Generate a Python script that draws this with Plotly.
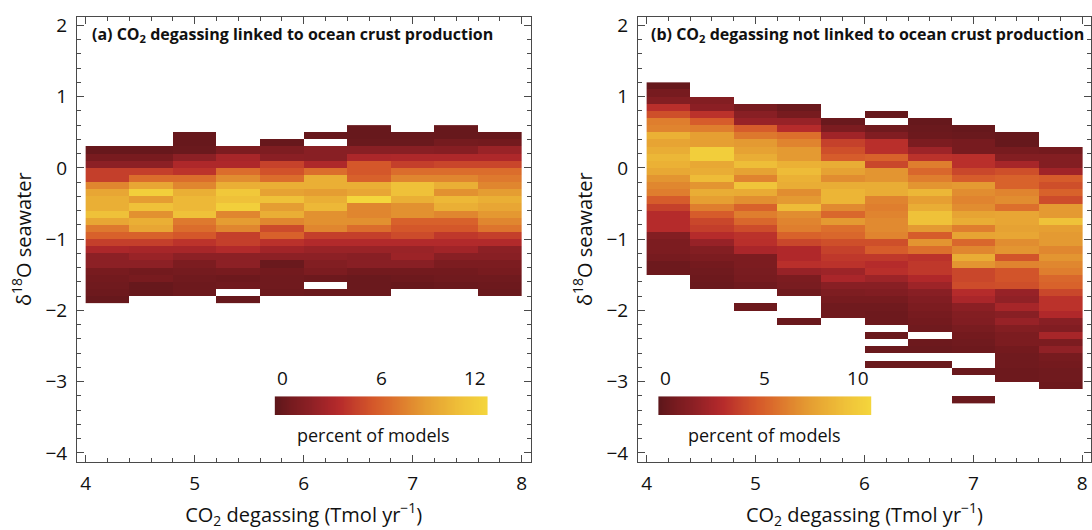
import numpy as np
import plotly.graph_objects as go

N = None

# CO2 degassing bins (Tmol/yr), shared by both panels
degassing_edges = [4.0, 4.4, 4.8, 5.2, 5.6, 6.0, 6.4, 6.8, 7.2, 7.6, 8.0]

# Panel (a): percent of models per d18O bin, rows listed from 0.6 down to -1.9
d18o_edges_a = np.round(np.arange(-1.9, 0.61, 0.1), 1)
pct_linked_rows = [
    [N, N, N, N, N, N, 0.4, N, 0.4, N],
    [N, N, 0.4, N, N, 0.4, 0.4, 0.4, 0.4, 0.4],
    [N, N, 0.4, N, 0.4, N, 0.5, 0.5, 0.9, 0.8],
    [0.4, 0.4, 0.5, 1.2, 1.3, 1.8, 1.8, 1.8, 1.7, 2.5],
    [1.0, 1.0, 2.0, 3.0, 1.9, 1.8, 3.2, 3.3, 3.3, 3.3],
    [2.0, 2.0, 3.3, 3.3, 4.6, 3.3, 5.5, 4.5, 4.8, 4.8],
    [4.5, 4.5, 4.0, 6.5, 5.3, 6.5, 5.5, 6.5, 6.5, 6.5],
    [4.5, 6.5, 6.5, 7.8, 6.5, 9.5, 6.0, 7.5, 7.5, 7.0],
    [7.5, 9.0, 7.5, 9.5, 9.5, 9.5, 9.5, 10.5, 9.5, 7.5],
    [9.0, 11.5, 9.5, 11.0, 8.8, 8.5, 9.0, 10.5, 8.0, 8.5],
    [9.5, 8.5, 10.0, 10.5, 10.5, 9.5, 12.0, 9.5, 10.0, 9.5],
    [9.5, 10.5, 10.0, 11.5, 8.5, 10.0, 7.5, 8.0, 9.5, 9.0],
    [10.5, 8.0, 10.5, 7.5, 9.4, 8.0, 7.5, 8.0, 7.5, 8.3],
    [9.0, 9.5, 7.0, 8.5, 7.5, 8.0, 8.0, 6.0, 6.0, 7.5],
    [7.0, 9.0, 6.5, 7.5, 5.0, 7.5, 6.5, 5.5, 5.5, 6.8],
    [6.0, 6.0, 5.5, 4.5, 6.0, 4.5, 4.5, 5.0, 4.2, 4.5],
    [4.5, 4.5, 4.0, 4.5, 3.9, 3.5, 3.5, 3.5, 3.5, 3.5],
    [3.2, 3.0, 3.0, 3.5, 2.8, 2.5, 2.5, 2.5, 2.8, 2.0],
    [2.0, 2.5, 2.0, 2.0, 2.0, 2.0, 1.8, 2.6, 1.8, 1.8],
    [2.0, 2.0, 1.2, 2.0, 0.5, 1.5, 1.8, 1.8, 1.2, 1.2],
    [1.0, 0.8, 0.9, 1.0, 0.8, 1.2, 0.8, 0.8, 0.8, 1.0],
    [0.8, 1.0, 0.7, 0.6, 0.7, 0.6, 0.5, 0.6, 0.7, 0.7],
    [0.7, 0.4, 0.6, 0.7, 0.7, N, 0.5, 0.4, 0.5, 0.6],
    [0.6, 0.4, 0.6, N, 0.6, 0.5, 0.5, N, N, 0.5],
    [0.4, N, N, 0.4, N, N, N, N, N, N],
]

# Panel (b): one list per degassing bin, d18O bins from 1.2 down to -3.3
d18o_edges_b = np.round(np.arange(-3.3, 1.21, 0.1), 1)
b_4_0 = [0.3, 0.8, 1.3, 3.2, 4.3, 6.0, 6.2, 8.0, 7.4, 7.8, 8.3, 8.0, 7.6, 6.8,
         6.3, 6.0, 4.8, 3.8, 3.0, 3.0, 3.0, 1.3, 1.0, 1.0, 0.8, 0.5, 0.5] + [N] * 18
b_4_4 = [N] * 2 + [1.3, 1.6, 3.3, 4.8, 6.0, 7.2, 7.2, 9.5, 9.5, 7.6, 7.8, 8.5, 6.8,
                   7.8, 7.2, 6.0, 4.8, 4.0, 3.7, 3.0, 2.0, 1.3, 1.0, 0.7, 0.6, 0.5,
                   0.4] + [N] * 16
b_4_8 = [N] * 3 + [0.8, 1.5, 2.0, 4.8, 5.8, 7.0, 7.3, 7.8, 8.6, 7.3, 6.2, 9.0, 7.7,
                   6.6, 5.0, 6.0, 5.2, 4.2, 3.3, 3.2, 2.6, 1.0, 1.0, 0.9, 0.8,
                   0.6] + [N] * 2 + [0.5] + [N] * 13
b_5_2 = [N] * 3 + [0.4, 0.8, 2.0, 3.0, 5.5, 6.2, 7.0, 7.0, 8.0, 8.5, 8.0, 7.8, 6.5,
                   7.0, 8.5, 6.5, 6.2, 6.0, 5.0, 4.0, 2.8, 2.8, 3.2, 2.0, 1.0, 0.9,
                   0.6] + [N] * 3 + [0.4] + [N] * 11
b_5_6 = [N] * 5 + [0.4, 1.0, 2.3, 3.8, 4.3, 4.8, 7.8, 7.3, 6.5, 7.8, 8.2, 8.2, 6.4,
                   5.2, 7.0, 5.5, 5.2, 4.3, 3.8, 3.5, 3.3, 2.2, 2.6, 1.5, 1.1, 0.8,
                   0.6, 0.6] + [N] * 12
b_6_0 = [N] * 4 + [0.3, N] + [0.6, 1.2, 3.2, 3.2, 5.0, 4.0, 6.8, 6.8, 7.8, 7.8, 6.2,
                              6.0, 6.2, 6.4, 6.4, 6.2, 4.3, 4.8, 3.5, 3.0, 3.2, 2.2,
                              1.5, 1.2, 0.8, 0.6, 0.5, 0.5] + [N, 0.4, N, 0.4, N, 0.4] + [N] * 5
b_6_4 = [N] * 5 + [0.3, 0.4, 0.5, 1.0, 2.2, 3.3, 6.0, 5.2, 6.0, 6.8, 8.3, 7.2, 7.8,
                   8.8, 8.8, 7.0, 4.8, 6.8, 5.5, 3.3, 3.5, 3.5, 2.8, 2.2, 1.5, 1.2,
                   1.0, 0.8, 0.7, 0.6] + [N, 0.5, 0.4, N, 0.4] + [N] * 5
b_6_8 = [N] * 6 + [0.3, 0.4, 0.8, 0.8, 3.2, 3.2, 4.0, 4.8, 7.0, 6.5, 6.2, 6.5, 7.4,
                   7.8, 6.0, 7.4, 5.2, 6.3, 7.8, 6.8, 4.0, 4.0, 4.2, 3.0, 2.6, 1.6,
                   1.3, 1.2, 0.9, 0.7, 0.6, 0.5] + [N, N, 0.4, N, N, N, 0.4]
b_7_2 = [N] * 7 + [0.3, 0.3, 0.8, 1.3, 2.5, 4.3, 5.0, 5.0, 6.2, 6.5, 5.5, 7.5, 7.5,
                   7.3, 7.5, 6.5, 6.8, 4.5, 6.2, 4.5, 4.5, 4.3, 2.0, 1.8, 2.5, 1.5,
                   2.0, 1.3, 1.0, 1.0, 0.7, 0.6, 0.6, 0.5, 0.5] + [N] * 3
b_7_6 = [N] * 9 + [0.7, 1.3, 1.3, 2.3, 4.8, 4.3, 5.0, 4.2, 7.0, 7.0, 8.8, 7.2, 7.0,
                   7.0, 6.3, 6.8, 6.3, 6.0, 5.2, 5.0, 4.0, 3.3, 3.3, 2.8, 1.5, 1.2,
                   2.5, 1.0, 1.8, 0.8, 0.7, 0.6, 0.6, 0.5] + [N] * 2

# colour-key ranges (percent of models)
key_max_a = 12
key_max_b = 10

solar = [
    [0.0, "#5c161a"], [0.08, "#771b1f"], [0.17, "#8d2025"], [0.27, "#ad272a"],
    [0.31, "#b72c2b"], [0.38, "#c5412b"], [0.46, "#d4572a"], [0.54, "#db6c2c"],
    [0.625, "#e0862f"], [0.71, "#e59d32"], [0.79, "#eaaf35"], [0.875, "#efc139"],
    [1.0, "#f4d63c"],
]

W, H = 1092, 530
FONT = "Open Sans"
FRAME = "#4a4a4a"


def px_x(p):
    return p / W


def px_y(p):
    return (H - p) / H


z_a = np.array(pct_linked_rows, dtype=float)[::-1]
z_b = np.array([b_4_0, b_4_4, b_4_8, b_5_2, b_5_6, b_6_0, b_6_4, b_6_8, b_7_2, b_7_6],
               dtype=float).T[::-1]

fig = go.Figure()
fig.add_trace(go.Heatmap(x=degassing_edges, y=d18o_edges_a, z=z_a, colorscale=solar,
                         zmin=0, zmax=key_max_a, showscale=False, hoverongaps=False,
                         xaxis="x", yaxis="y"))
fig.add_trace(go.Heatmap(x=degassing_edges, y=d18o_edges_b, z=z_b, colorscale=solar,
                         zmin=0, zmax=key_max_b, showscale=False, hoverongaps=False,
                         xaxis="x2", yaxis="y2"))

# colour keys drawn as gradient strips
key_a = np.linspace(0, key_max_a, 241)
key_b = np.linspace(0, key_max_b, 241)
fig.add_trace(go.Heatmap(x=key_a, y=[0], z=[key_a], colorscale=solar, zmin=0,
                         zmax=key_max_a, showscale=False, hoverinfo="skip",
                         xaxis="x3", yaxis="y3"))
fig.add_trace(go.Heatmap(x=key_b, y=[0], z=[key_b], colorscale=solar, zmin=0,
                         zmax=key_max_b, showscale=False, hoverinfo="skip",
                         xaxis="x4", yaxis="y4"))

frame_axis = dict(
    showline=True, linecolor=FRAME, linewidth=1, mirror="allticks",
    ticks="inside", ticklen=7, tickwidth=1, tickcolor=FRAME,
    minor=dict(dtick=0.2, ticks="inside", ticklen=4, tickwidth=1, tickcolor=FRAME),
    dtick=1, tick0=0, showgrid=False, zeroline=False,
    tickfont=dict(family=FONT, size=19, color="#111"),
    ticklabelstandoff=5,
)
x_title = dict(text="CO<sub>2</sub> degassing (Tmol yr<sup>−1</sup>)",
               font=dict(family=FONT, size=20, color="#111"), standoff=14)
y_title = dict(text="δ<sup>18</sup>O seawater",
               font=dict(family=FONT, size=20, color="#111"), standoff=8)

y_dom = [px_y(464.4), px_y(12)]
fig.update_layout(
    width=W, height=H, margin=dict(l=0, r=0, t=0, b=0), autosize=False,
    paper_bgcolor="white", plot_bgcolor="white", showlegend=False,
    xaxis=dict(frame_axis, domain=[px_x(77), px_x(531)], range=[3.92, 8.08],
               anchor="y", title=x_title),
    yaxis=dict(frame_axis, domain=y_dom, range=[-4.12, 2.12], anchor="x", title=y_title),
    xaxis2=dict(frame_axis, domain=[px_x(638.5), 1.0], range=[3.92, 8.08],
                anchor="y2", title=x_title),
    yaxis2=dict(frame_axis, domain=y_dom, range=[-4.12, 2.12], anchor="x2", title=y_title),
    xaxis3=dict(domain=[px_x(275), px_x(488)], range=[0, key_max_a], anchor="y3",
                visible=False),
    yaxis3=dict(domain=[px_y(417), px_y(398)], anchor="x3", visible=False),
    xaxis4=dict(domain=[px_x(659), px_x(872)], range=[0, key_max_b], anchor="y4",
                visible=False),
    yaxis4=dict(domain=[px_y(417), px_y(398)], anchor="x4", visible=False),
)

label_font = dict(family=FONT, size=19, color="#111")
caption_font = dict(family=FONT, size=18, color="#111")
annotations = []
for xref, kmax, caption_x in (("x3", key_max_a, 5.55), ("x4", key_max_b, 5.0)):
    for val, anchor in ((0, "left"), (kmax / 2, "center"), (kmax, "right")):
        annotations.append(dict(x=val, y=px_y(395), xref=xref, yref="paper",
                                text=f"{val:g}", showarrow=False, xanchor=anchor,
                                yanchor="bottom", font=label_font))
    annotations.append(dict(x=caption_x, y=px_y(437), xref=xref, yref="paper",
                            text="percent of models", showarrow=False,
                            xanchor="center", yanchor="middle", font=caption_font))

panel_font = dict(family=FONT, size=16, color="#111")
annotations.append(dict(x=px_x(90), y=px_y(30), xref="paper", yref="paper",
                        text="<b>(a) CO<sub>2</sub> degassing linked to ocean crust production</b>",
                        showarrow=False, xanchor="left", yanchor="middle", font=panel_font))
annotations.append(dict(x=px_x(650), y=px_y(30), xref="paper", yref="paper",
                        text="<b>(b) CO<sub>2</sub> degassing not linked to ocean crust production</b>",
                        showarrow=False, xanchor="left", yanchor="middle", font=panel_font))
fig.update_layout(annotations=annotations)

fig.write_html("out.html")
